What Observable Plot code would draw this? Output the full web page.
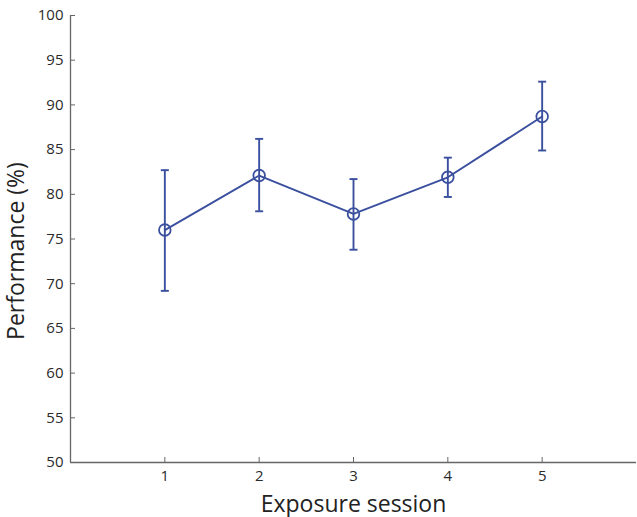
<!DOCTYPE html>
<html><head><meta charset="utf-8">
<script src="https://cdn.jsdelivr.net/npm/d3@7"></script>
<script src="https://cdn.jsdelivr.net/npm/@observablehq/plot@0.6"></script>
<style>body{margin:0;background:#fff} svg{font-family:"Open Sans",sans-serif}</style>
</head><body><div id="chart"></div>
<script>
const sessions = [1, 2, 3, 4, 5];
const means = [76.0, 82.1, 77.8, 81.9, 88.7];
const lower = [69.2, 78.1, 73.8, 79.7, 84.9];
const upper = [82.7, 86.2, 81.7, 84.1, 92.6];
const xTicks = [1, 2, 3, 4, 5];
const yTicks = [50, 55, 60, 65, 70, 75, 80, 85, 90, 95, 100];
const xLabel = "Exposure session";
const yLabel = "Performance (%)";

const data = sessions.map((s, i) => ({s, m: means[i], lo: lower[i], hi: upper[i]}));
const blue = "#3a4f9e";
const axisColor = "#666";
const capSymbol = {draw(ctx, size) { const w = Math.sqrt(size / Math.PI); ctx.moveTo(-w, 0); ctx.lineTo(w, 0); }};

const chart = Plot.plot({
  width: 637, height: 517,
  marginLeft: 70, marginTop: 15, marginBottom: 55, marginRight: 1,
  style: {fontFamily: "'Open Sans', sans-serif", background: "#fff"},
  x: {domain: [0, 6]},
  y: {domain: [50, 100]},
  marks: [
    Plot.axisY({ticks: yTicks, tickFormat: "d", tickSize: 0, tickPadding: 7, fontSize: 15, fill: "#2a2a2a", label: null}),
    Plot.axisY({ticks: yTicks, tickSize: -5, fill: "none", stroke: axisColor, label: null}),
    Plot.axisX({ticks: xTicks, tickFormat: "d", tickSize: 0, tickPadding: 8, fontSize: 15, fill: "#2a2a2a", label: null}),
    Plot.axisX({ticks: xTicks, tickSize: -5, fill: "none", stroke: axisColor, label: null}),
    Plot.ruleX([0], {stroke: axisColor, strokeWidth: 1.3}),
    Plot.ruleY([50], {stroke: axisColor, strokeWidth: 1.3}),
    Plot.ruleX(data, {x: "s", y1: "lo", y2: "hi", stroke: blue, strokeWidth: 1.9}),
    Plot.dot(data, {x: "s", y: "hi", symbol: capSymbol, r: 4, stroke: blue, strokeWidth: 1.9}),
    Plot.dot(data, {x: "s", y: "lo", symbol: capSymbol, r: 4, stroke: blue, strokeWidth: 1.9}),
    Plot.line(data, {x: "s", y: "m", stroke: blue, strokeWidth: 1.9}),
    Plot.dot(data, {x: "s", y: "m", r: 5.8, stroke: blue, strokeWidth: 1.8, fill: "none"}),
    Plot.text([xLabel], {frameAnchor: "bottom", dy: 49, fontSize: 23, fill: "#222"}),
    Plot.text([yLabel], {frameAnchor: "left", textAnchor: "middle", rotate: -90, dx: -54, dy: 12, fontSize: 23, fill: "#222"})
  ]
});
document.getElementById("chart").appendChild(chart);
</script>
</body></html>
